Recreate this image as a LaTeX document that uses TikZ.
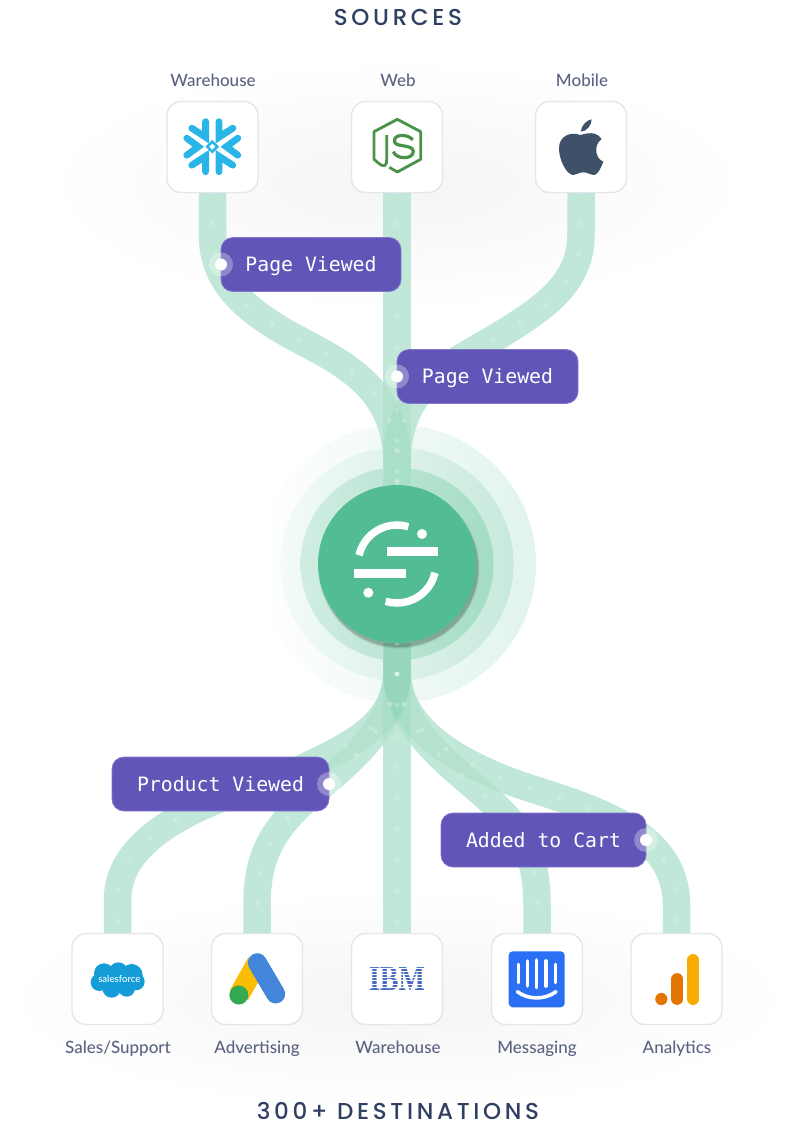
\documentclass[tikz,border=0pt]{standalone}
\usepackage{fontspec}
\newfontfamily\headf[LetterSpace=16]{Poppins Medium}
\newfontfamily\capf{Lato Medium}
\newfontfamily\tagf{DejaVu Sans Mono}
\newfontfamily\ibmf{Liberation Serif}
\definecolor{flowc}{HTML}{4FBB90}
\definecolor{flowbase}{HTML}{CDEDE0}
\definecolor{hubc}{HTML}{52BC94}
\definecolor{tagc}{HTML}{6155B8}
\definecolor{tagb}{HTML}{8177CE}
\definecolor{tileb}{HTML}{E3E5EF}
\definecolor{headc}{HTML}{2F4063}
\definecolor{capc}{HTML}{5B6382}
\definecolor{snowc}{HTML}{29B5E8}
\definecolor{nodec}{HTML}{4A9248}
\definecolor{applec}{HTML}{3F5168}
\definecolor{sfc}{HTML}{139CD8}
\definecolor{adsy}{HTML}{FBBC04}
\definecolor{adsb}{HTML}{4285D9}
\definecolor{adsg}{HTML}{34A853}
\definecolor{ibmc}{HTML}{446CBE}
\definecolor{icomc}{HTML}{2B6FF5}
\definecolor{gao}{HTML}{E37400}
\definecolor{gay}{HTML}{F9AB00}
\pgfdeclarelayer{under}
\pgfdeclarelayer{flows}
\pgfsetlayers{under,flows,main}
\newcommand\flowpaths[1]{%
\path[#1] (s1.south) -- (212.5,235) .. controls (212.5,285) and (250,312) .. (290,335) .. controls (340,362) and (397,385) .. (397,465) -- (hub.north);
\path[#1] (s2.south) -- (hub.north);
\path[#1] (s3.south) -- (581,235) .. controls (581,285) and (540,310) .. (500,335) .. controls (450,365) and (397,385) .. (397,465) -- (hub.north);
\path[#1] (hub.south) -- (397,670) .. controls (397,725) and (350,745) .. (305,767) .. controls (265,787) and (117.5,815) .. (117.5,900) -- (d1.north);
\path[#1] (hub.south) -- (397,670) .. controls (397,735) and (330,775) .. (298,807) .. controls (270,835) and (257,860) .. (257,905) -- (d2.north);
\path[#1] (hub.south) -- (d3.north);
\path[#1] (hub.south) -- (397,670) .. controls (397,735) and (460,770) .. (500,810) .. controls (525,835) and (537,860) .. (537,905) -- (d4.north);
\path[#1] (hub.south) -- (397,670) .. controls (397,725) and (450,760) .. (520,785) .. controls (590,808) and (676.5,830) .. (676.5,905) -- (d5.north);
}
\tikzset{
  flowsolid/.style={draw=flowbase,line width=27.5pt},
  flowtint/.style={draw=flowc,line width=27.5pt,draw opacity=.10},
  flowspeck/.style={draw=white,line width=5pt,draw opacity=.2,line cap=round,dash pattern=on 0pt off 31pt},
  tile/.style={draw=tileb,line width=1.4pt,fill=white,rounded corners=14pt,minimum width=91pt,minimum height=91pt,inner sep=0pt,outer sep=0pt},
  tilecap/.style={text=capc,font=\capf\fontsize{17}{18}\selectfont,inner sep=0pt,anchor=base},
  headline/.style={text=headc,font=\headf\fontsize{23}{24}\selectfont,inner sep=0pt,anchor=base},
  tagbox/.style={draw=tagb,line width=.8pt,fill=tagc,rounded corners=12pt,text=white,font=\tagf\fontsize{19.8}{22}\selectfont,inner sep=0pt,outer sep=0pt,minimum height=54pt,text height=16pt,text depth=2pt},
  pinhalo/.style={circle,fill=white,fill opacity=.3,minimum size=24pt,inner sep=0pt},
  pindot/.style={circle,fill=white,minimum size=12pt,inner sep=0pt},
  logoline/.style={white,line width=7.5pt},
}
\begin{document}
\begin{tikzpicture}[x=1pt,y=-1pt]
\useasboundingbox (0,0) rectangle (794,1130);
% nodes
\node[headline] (srcT) at (398,25.7) {SOURCES};
\node[headline] (dstT) at (398,1119.3) {300+ DESTINATIONS};
\node[tilecap] (c1) at (213,86) {Warehouse};
\node[tilecap] (c2) at (398,86) {Web};
\node[tilecap] (c3) at (582,86) {Mobile};
\node[tilecap] (c4) at (118,1053.5) {Sales/Support};
\node[tilecap] (c5) at (257,1053.5) {Advertising};
\node[tilecap] (c6) at (398,1053.5) {Warehouse};
\node[tilecap] (c7) at (537,1053.5) {Messaging};
\node[tilecap] (c8) at (677,1053.5) {Analytics};
\node[tile] (s1) at (212.5,147) {};
\node[tile] (s2) at (397,147) {};
\node[tile] (s3) at (581,147) {};
\node[tile] (d1) at (117.5,979) {};
\node[tile] (d2) at (257,979) {};
\node[tile] (d3) at (397,979) {};
\node[tile] (d4) at (537,979) {};
\node[tile] (d5) at (676.5,979) {};
\node[circle,fill=hubc,minimum size=158pt,inner sep=0pt,outer sep=0pt] (hub) at (397,564) {};
% soft halos and rings
\begin{pgfonlayer}{under}
\shade[inner color=black!4,outer color=white] (397,185) ellipse[x radius=350,y radius=125];
\shade[inner color=black!4,outer color=white] (397,1000) ellipse[x radius=395,y radius=110];
\shade[left color=white,right color=flowc!17] (397,564) circle[radius=139];
\shade[left color=flowc!6,right color=flowc!32] (397,564) circle[radius=116.5];
\shade[left color=flowc!26,right color=flowc!52] (397,564) circle[radius=96.5];
\end{pgfonlayer}
% flows
\begin{pgfonlayer}{flows}
\flowpaths{flowsolid}
\flowpaths{flowtint}
\flowpaths{flowspeck}
\foreach \r/\o in {81/.04,80/.06,79.5/.08,79/.10}{\fill[black,opacity=\o] (399,568) circle[radius=\r];}
\end{pgfonlayer}
% hub logo
\begin{scope}[shift={(397,564)},y=1pt]
\draw[logoline] (167:39) arc[start angle=167,end angle=73,radius=39];
\draw[logoline] (-13:39) arc[start angle=-13,end angle=-107,radius=39];
\draw[logoline,line width=8.5pt] (-10.5,12.3) -- (41.3,12.3);
\draw[logoline,line width=8.5pt] (-43,-9.5) -- (8.7,-9.5);
\fill[white] (25,30) circle[radius=5];
\fill[white] (-28.7,-28.7) circle[radius=5];
\end{scope}
% tags
\node[tagbox,minimum width=180pt] (t1) at (311,264.5) {Page Viewed};
\node[pinhalo] at (t1.west) {};
\node[pindot] (p1) at (t1.west) {};
\node[tagbox,minimum width=181pt] (t2) at (487.5,376.5) {Page Viewed};
\node[pinhalo] at (t2.west) {};
\node[pindot] (p2) at (t2.west) {};
\node[tagbox,minimum width=217pt] (t3) at (220.5,784) {Product Viewed};
\node[pinhalo] at (t3.east) {};
\node[pindot] (p3) at (t3.east) {};
\node[tagbox,minimum width=205pt] (t4) at (543.5,840) {Added to Cart};
\node[pinhalo] at (t4.east) {};
\node[pindot] (p4) at (t4.east) {};
% snowflake
\begin{scope}[shift={(212.3,146.7)},line width=6.8pt,line cap=round,draw=snowc]
\foreach \sx in {1,-1}{
 \foreach \sy in {1,-1}{
  \draw[xscale=\sx,yscale=\sy] (-6.7,-25) -- (-6.7,-9.5) -- (-20.5,-18.5);
 }
 \draw[xscale=\sx] (-25.5,-8.5) -- (-14,0) -- (-25.5,8.5);
}
\draw[line width=2.5pt,line cap=butt] (0,-5) -- (5,0) -- (0,5) -- (-5,0) -- cycle;
\end{scope}
% node hexagon
\begin{scope}[shift={(360,110)},x=.3333pt,y=-.3333pt,line width=2.8pt,draw=nodec,line join=round]
\draw (80,75) -- (80,150) .. controls (80,170) and (70,172) .. (56,160) -- (42,148) -- (42,65) -- (112,28) -- (182,65) -- (182,148) -- (112,186) -- (88,172);
\draw[line width=3.2pt] (158,90) .. controls (150,75) and (105,68) .. (103,92) .. controls (102,115) and (160,100) .. (160,125) .. controls (158,150) and (108,148) .. (100,125);
\end{scope}
% apple
\begin{scope}[shift={(545,110)},x=.3333pt,y=-.3333pt]
\fill[applec] (105,75) .. controls (80,65) and (42,75) .. (42,115) .. controls (42,150) and (65,195) .. (85,195) .. controls (95,195) and (100,187) .. (115,187) .. controls (130,187) and (135,195) .. (148,195) .. controls (158,195) and (170,170) .. (175,155) .. controls (150,145) and (145,105) .. (170,87) .. controls (160,72) and (145,68) .. (128,70) .. controls (115,72) and (110,75) .. (105,75) -- cycle;
\fill[applec] (107,65) .. controls (110,45) and (125,30) .. (140,28) .. controls (140,45) and (125,65) .. (107,65) -- cycle;
\end{scope}
% salesforce
\begin{scope}[shift={(80,945)},x=.3333pt,y=-.3333pt]
\foreach \a/\b/\r in {72/85/30,115/80/28,155/90/33,58/112/26,95/130/28,140/130/25,168/110/26,115/105/40}{\fill[sfc] (\a,\b) circle[radius=\r];}
\node[text=white,font=\capf\fontsize{9.6}{12}\selectfont,inner sep=0pt] (sflogo) at (118,101) {salesforce};
\end{scope}
% google ads
\fill[adsy] (248.3,957.5) -- (266.3,968) -- (248,1000) -- (230,990) -- cycle;
\draw[line width=19pt,line cap=round,draw=adsb] (257.3,962.7) -- (275.7,994);
\fill[adsg] (238.8,995) circle[radius=9.5];
% ibm
\node[text=ibmc,inner sep=0pt,font=\ibmf\bfseries\fontsize{35}{35}\selectfont,xscale=.8] (ibm) at (397,979) {IBM};
\foreach \k in {0,...,7}{\fill[white] (360,968+3.1*\k) rectangle (435,969+3.1*\k);}
% intercom
\fill[icomc,rounded corners=4pt] (508.7,951.3) rectangle (564.7,1007.3);
\begin{scope}[draw=white,line width=3.6pt,line cap=round,shift={(400,920)},x=.3333pt,y=-.3333pt]
\draw (355,133) -- (355,188);
\draw (382,123) -- (382,198);
\draw (410,120) -- (410,203);
\draw (438,123) -- (438,198);
\draw (466,133) -- (466,188);
\draw (352,215) .. controls (385,240) and (435,240) .. (468,215);
\end{scope}
% analytics
\fill[gao] (661.3,999) circle[radius=6.1];
\draw[line width=11.7pt,line cap=round,draw=gao] (677.3,979) -- (677.3,999);
\draw[line width=12pt,line cap=round,draw=gay] (693.3,960) -- (693.3,999);
\end{tikzpicture}
\end{document}
